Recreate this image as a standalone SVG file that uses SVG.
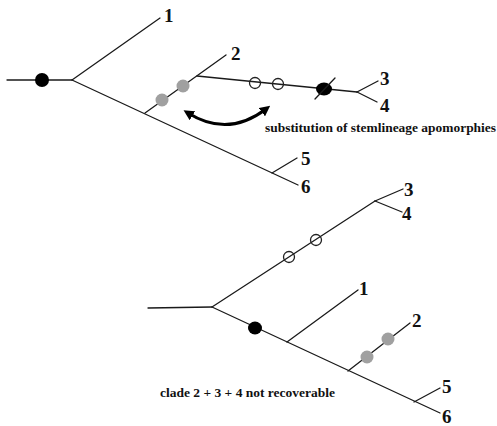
<svg xmlns="http://www.w3.org/2000/svg" width="497" height="426" viewBox="0 0 497 426">
<defs>
<style>
.br{stroke:#1a1a1a;stroke-width:1.3;fill:none;stroke-linecap:round}
.lab{font-family:"Liberation Serif","Times New Roman",serif;font-weight:bold;font-size:19px;fill:#111}
.cap{font-family:"Liberation Serif","Times New Roman",serif;font-weight:bold;font-size:13.5px;fill:#111}
.blk{fill:#000}
.gry{fill:#a0a0a0}
.opn{fill:none;stroke:#222;stroke-width:1.3}
</style>
<marker id="ah" viewBox="0 0 10 10" refX="5" refY="5" markerWidth="3.5" markerHeight="3.5" orient="auto-start-reverse">
<path d="M0,0 L10,5 L0,10 z" fill="#000"/>
</marker>
</defs>
<rect width="497" height="426" fill="#fff"/>
<g id="connectors">
<line class="br" x1="7" y1="80" x2="72" y2="80"/>
<line class="br" x1="72" y1="80" x2="160" y2="18"/>
<line class="br" x1="72" y1="80" x2="298" y2="185"/>
<line class="br" x1="145" y1="113" x2="226" y2="55"/>
<line class="br" x1="197" y1="76" x2="357" y2="92"/>
<line class="br" x1="357" y1="92" x2="378" y2="81"/>
<line class="br" x1="357" y1="92" x2="377" y2="102"/>
<line class="br" x1="272" y1="173" x2="297" y2="158"/>
<path d="M188,113 Q228,138 266,109" stroke="#000" stroke-width="3" fill="none" marker-start="url(#ah)" marker-end="url(#ah)"/>
<line class="br" x1="148" y1="308" x2="212" y2="307"/>
<line class="br" x1="212" y1="307" x2="375" y2="201"/>
<line class="br" x1="375" y1="201" x2="403" y2="189"/>
<line class="br" x1="375" y1="201" x2="402" y2="212"/>
<line class="br" x1="212" y1="307" x2="440" y2="413"/>
<line class="br" x1="287" y1="342" x2="358" y2="290"/>
<line class="br" x1="348" y1="371" x2="410" y2="323"/>
<line class="br" x1="414" y1="402" x2="440" y2="388"/>
</g>
<g id="top-root-apomorphy"><circle class="blk" cx="42" cy="80" r="7"/></g>
<g id="top-gray-dots"><circle class="gry" cx="162" cy="100" r="6.5"/><circle class="gry" cx="183" cy="86" r="6.5"/></g>
<g id="top-open-circles"><circle class="opn" cx="255" cy="83" r="5.5"/><circle class="opn" cx="278" cy="84" r="5.5"/></g>
<g id="top-black-dot"><ellipse class="blk" cx="324" cy="89" rx="8" ry="6.5"/><line class="br" x1="315" y1="99" x2="335" y2="78"/></g>
<g id="bottom-open-circles"><circle class="opn" cx="289" cy="257" r="5.5"/><circle class="opn" cx="316" cy="240" r="5.5"/></g>
<g id="bottom-black-dot"><ellipse class="blk" cx="255" cy="328" rx="7" ry="6.5"/></g>
<g id="bottom-gray-dots"><circle class="gry" cx="367" cy="357" r="6.5"/><circle class="gry" cx="388" cy="339" r="6.5"/></g>
<g id="labels-top">
<text class="lab" x="164" y="22">1</text>
<text class="lab" x="231" y="60">2</text>
<text class="lab" x="380" y="85">3</text>
<text class="lab" x="380" y="112">4</text>
<text class="lab" x="301" y="165">5</text>
<text class="lab" x="301" y="193">6</text>
</g>
<g id="labels-bottom">
<text class="lab" x="404" y="196">3</text>
<text class="lab" x="402" y="220">4</text>
<text class="lab" x="359" y="295">1</text>
<text class="lab" x="412" y="327">2</text>
<text class="lab" x="442" y="393">5</text>
<text class="lab" x="442" y="423">6</text>
</g>
<text class="cap" x="265" y="132" textLength="231" lengthAdjust="spacingAndGlyphs">substitution of stemlineage apomorphies</text>
<text class="cap" x="160" y="397" textLength="175" lengthAdjust="spacingAndGlyphs">clade 2 + 3 + 4 not recoverable</text>
</svg>
